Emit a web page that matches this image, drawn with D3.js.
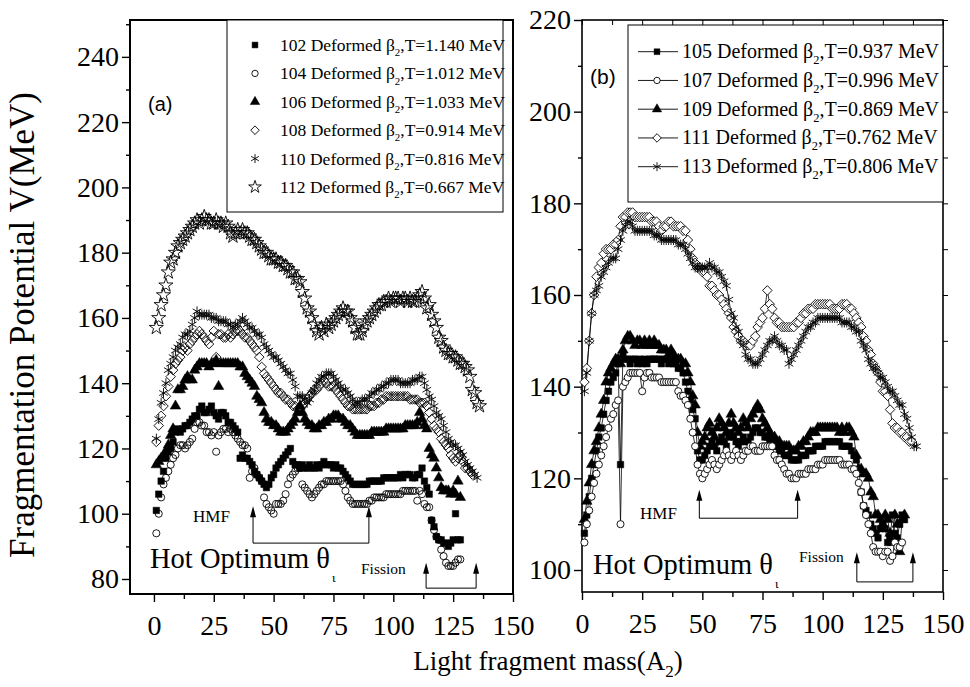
<!DOCTYPE html>
<html><head><meta charset="utf-8">
<script src="https://cdn.jsdelivr.net/npm/d3@7"></script>
<style>body{margin:0;background:#fff} svg{display:block}</style>
</head><body>
<svg id="c" width="970" height="687"></svg>
<script>
// ---------------- DATA ----------------
// Panel (a): fragmentation potential V (MeV) vs light fragment mass A2 = 1,2,3,...
const v102 = [101,106,110,113,117,119,120,122,125,126,125,126,127,127,128,129,130,130,132,133,131,131,132,133,131,130,129,131,131,130,128,128,127,126,125,117,118,117,117,116,115,113,112,111,110,109,108,109,111,112,114,115,116,117,118,119,120,116,115,115,114,115,114,114,115,114,114,115,114,115,116,115,115,115,114,115,114,114,113,112,111,110,109,109,109,109,109,109,109,110,110,110,110,110,110,111,111,111,111,111,111,111,112,111,112,112,112,111,111,112,112,114,110,108,106,98,96,93,92,92,91,91,90,91,92,100,92,92];
const v104 = [94,100,105,109,111,113,115,117,118,120,121,121,120,121,122,123,126,128,128,127,127,125,125,124,125,119,124,125,126,126,125,126,125,124,123,122,121,121,120,111,113,114,112,111,110,105,103,102,101,100,103,103,103,104,106,109,111,112,113,114,114,109,108,107,106,105,106,107,108,109,109,110,110,110,110,110,110,110,109,107,105,104,103,103,103,103,103,103,103,104,104,105,105,105,105,105,106,106,106,106,106,106,106,107,107,107,107,107,107,104,107,106,103,102,102,98,95,93,92,89,87,85,84,84,84,85,86,86];
const v106 = [115,116,117,118,119,121,124,126,133,138,138,139,141,142,141,141,144,145,146,146,146,146,145,146,146,147,139,146,146,146,146,146,146,146,146,145,145,143,142,141,140,139,136,135,134,131,129,128,128,127,127,126,125,125,125,126,127,128,129,131,133,131,129,128,127,127,126,126,127,127,128,128,129,129,130,130,130,129,129,128,127,127,126,125,124,124,124,124,124,124,125,125,125,125,125,125,126,126,126,126,126,126,126,126,127,127,127,127,127,128,131,129,127,126,120,118,117,114,111,108,107,107,107,106,107,106,110,105];
const v108 = [122,127,130,133,136,139,142,144,146,147,148,150,151,150,152,153,154,155,156,155,154,153,152,154,156,148,155,155,154,154,155,154,155,156,156,156,155,154,154,153,152,151,150,148,145,143,142,141,140,139,138,137,137,136,135,135,134,133,133,132,132,133,134,135,136,137,138,138,139,140,141,140,139,139,139,138,137,136,135,134,133,133,132,132,132,132,132,132,132,133,133,133,134,134,135,135,136,136,136,136,136,136,136,136,136,136,135,135,135,135,134,134,134,133,131,129,127,126,125,123,122,121,120,118,117,116,117,118,116,114,114,113,112];
const v110 = [123,129,134,137,140,144,146,148,150,151,152,154,155,155,156,158,160,162,161,161,161,161,161,160,160,160,159,159,159,159,158,158,157,158,158,159,160,159,158,157,157,156,155,155,154,152,151,150,149,148,148,147,146,145,144,143,143,141,139,136,136,136,135,134,135,137,138,140,141,142,142,143,143,143,142,141,140,139,138,138,137,136,135,134,134,134,135,135,135,136,137,137,138,138,139,139,140,140,141,141,141,141,140,140,140,140,140,141,141,141,142,142,140,138,136,135,133,131,130,129,127,125,123,122,121,121,120,119,118,116,115,114,113,112,111];
const v112 = [157,160,164,167,170,174,177,178,180,182,183,184,185,186,187,188,189,190,189,190,191,190,190,189,189,190,189,189,188,189,188,186,185,186,187,186,187,186,186,185,184,184,183,182,181,180,180,179,178,178,178,177,177,176,176,175,174,174,172,172,171,168,166,163,162,160,158,156,155,157,156,158,157,158,159,160,161,162,163,162,162,160,159,157,155,155,156,158,159,160,161,162,163,164,164,165,165,166,165,166,166,166,165,166,166,165,166,165,165,166,167,168,166,163,164,161,159,157,154,153,151,150,149,149,148,148,147,146,146,145,144,142,138,137,134,133];
// Panel (b)
const v105 = [108,112,116,120,123,126,129,131,134,137,139,141,142,143,145,123,147,146,146,145,146,146,145,146,145,146,145,146,146,146,146,146,145,146,146,145,146,145,145,144,144,143,141,139,137,135,133,126,124,124,125,126,127,128,127,126,128,129,128,127,129,130,129,128,127,128,129,128,128,129,130,131,131,130,130,129,129,128,128,127,127,126,126,125,125,125,124,124,124,124,125,125,125,126,126,126,127,127,127,127,128,128,128,128,128,128,128,127,127,127,127,126,125,124,122,117,114,113,112,110,109,108,107,109,110,109,106,107,112,108,107,110,112,111];
const v107 = [106,110,113,116,119,121,123,125,127,129,131,133,134,136,137,110,140,141,142,143,143,143,143,143,139,142,143,143,142,142,142,142,141,141,141,141,141,141,141,139,138,138,137,136,133,130,127,123,121,120,121,122,123,124,123,122,123,124,125,126,125,124,125,126,125,124,125,126,126,127,127,126,126,126,127,127,127,127,127,125,124,124,123,122,121,121,120,120,120,121,121,121,121,122,122,122,122,123,123,123,124,124,124,124,124,124,124,123,123,123,123,122,122,121,119,117,114,112,110,108,105,104,104,104,103,104,104,102,103,106,105,105,106];
const v109 = [111,115,119,123,126,128,131,134,137,141,143,144,145,146,146,145,148,150,151,151,150,149,150,150,149,150,149,150,149,150,149,149,148,148,148,147,148,147,146,146,146,145,145,143,141,138,136,130,127,128,129,131,132,130,129,131,133,132,131,130,132,134,132,131,130,131,133,132,131,133,134,135,136,135,133,132,131,130,129,129,128,128,127,127,127,127,126,126,126,127,127,128,128,129,130,130,130,131,131,131,131,131,131,131,131,131,130,131,130,131,131,130,129,125,122,122,121,121,120,117,116,112,112,111,110,112,111,108,106,112,110,104,111,112];
const v111 = [141,144,150,156,160,164,166,167,169,170,170,170,171,171,172,175,177,177,178,178,178,177,177,177,177,177,177,177,176,176,176,175,174,175,175,176,176,175,175,175,175,174,174,172,170,168,167,166,166,165,165,164,162,162,161,160,160,159,158,157,156,155,153,152,151,150,150,149,149,149,150,151,153,154,155,157,161,158,157,155,154,154,153,153,153,153,153,153,154,154,155,156,156,157,157,157,158,158,158,158,158,158,158,157,157,157,157,158,158,158,157,157,156,155,154,153,151,150,148,147,145,144,143,141,139,139,138,135,132,131,131,130,130,129,129,128,128];
const v113 = [139,143,150,156,160,161,162,164,165,166,167,168,168,168,170,172,174,175,176,176,175,174,174,174,174,174,174,174,174,173,173,173,172,172,172,172,172,172,172,171,171,171,170,169,168,167,166,166,166,166,166,166,167,166,166,165,165,164,163,162,159,156,155,153,152,150,149,147,146,146,145,145,145,146,147,148,149,150,150,151,150,149,149,148,148,145,146,147,148,149,150,151,152,153,153,154,154,155,155,155,155,155,155,155,155,155,155,154,154,154,154,153,153,152,152,150,149,148,146,145,144,144,143,142,142,141,140,139,139,138,137,136,136,134,133,131,129,127,127];

const namesA = ["102","104","106","108","110","112"];
const tempsA = ["1.140","1.012","1.033","0.914","0.816","0.667"];
const namesB = ["105","107","109","111","113"];
const tempsB = ["0.937","0.996","0.869","0.762","0.806"];
const xTicks = [0,25,50,75,100,125,150];
const yTicksA = [80,100,120,140,160,180,200,220,240];
const yTicksB = [100,120,140,160,180,200,220];

// ---------------- DRAWING ----------------
const svg = d3.select('#c');
const serif = "'Liberation Serif','Times New Roman',serif";
const sans = "'Liberation Sans',Arial,sans-serif";

const xA = d3.scaleLinear([-10,150],[130,513]);
const yA = d3.scaleLinear([75.4,251.3],[594,20]);
const xB = d3.scaleLinear([0,150],[582,943]);
const yB = d3.scaleLinear([95.2,220],[592,20]);

const shapes = {
  sq:{type:d3.symbolSquare,size:42,fill:'#000'},
  ci:{type:d3.symbolCircle,size:40,fill:'none'},
  tr:{type:d3.symbolTriangle,size:48,fill:'#000'},
  di:{type:d3.symbolDiamond2,size:58,fill:'none'},
  as:{type:d3.symbolAsterisk,size:70,fill:'none'},
  st:{type:d3.symbolStar,size:62,fill:'none'}
};
const shapeA = ['sq','ci','tr','di','as','st'];
const shapeB = ['sq','ci','tr','di','as'];

function drawMarkers(g, data, x, y, shp, fillOpen){
  const s = shapes[shp];
  g.selectAll(null).data(data).join('path')
    .attr('d', d3.symbol().type(s.type).size(s.size)())
    .attr('transform', (d,i)=>`translate(${x(i+1)},${y(d)})`)
    .attr('fill', s.fill==='none' ? fillOpen : s.fill)
    .attr('stroke','#000').attr('stroke-width', s.fill==='none'?0.9:0.5);
}

function axes(x, y, yt, x0, x1, yTop, yBot, mirror, frameW){
  const g = svg.append('g');
  const la = g.append('g').attr('transform',`translate(${x0},0)`)
    .call(d3.axisLeft(y).tickValues(yt).tickSize(8).tickPadding(3).tickFormat(d3.format('d')));
  const minorY = d3.range(yt[0]-10, yt[yt.length-1]+11, 20).filter(v=>v>y.domain()[0]&&v<y.domain()[1]);
  const lm = g.append('g').attr('transform',`translate(${x0},0)`)
    .call(d3.axisLeft(y).tickValues(minorY).tickSize(4).tickFormat(''));
  const ba = g.append('g').attr('transform',`translate(0,${yBot})`)
    .call(d3.axisBottom(x).tickValues(xTicks).tickSize(8).tickPadding(13));
  const minorX = xTicks.slice(0,-1).map(v=>v+12.5);
  const bm = g.append('g').attr('transform',`translate(0,${yBot})`)
    .call(d3.axisBottom(x).tickValues(minorX).tickSize(5).tickFormat(''));
  [la,lm,ba,bm].forEach(a=>{
    a.select('.domain').remove();
    a.selectAll('line').attr('stroke','#000').attr('stroke-width',1.4);
    a.selectAll('text').attr('font-family',serif).attr('font-size',28).attr('fill','#000');
  });
  if (mirror){
    const ra = g.append('g').attr('transform',`translate(${x1},0)`)
      .call(d3.axisLeft(y).tickValues(d3.range(yt[0],yt[yt.length-1]+1,10)).tickSize(-5).tickFormat(''));
    const ta = g.append('g').attr('transform',`translate(0,${yTop})`)
      .call(d3.axisBottom(x).tickValues(xTicks.concat(minorX)).tickSize(5).tickFormat(''));
    [ra,ta].forEach(a=>{a.select('.domain').remove();a.selectAll('line').attr('stroke','#000').attr('stroke-width',1);});
  }
  g.append('rect').attr('x',x0).attr('y',yTop).attr('width',x1-x0).attr('height',yBot-yTop)
    .attr('fill','none').attr('stroke','#000').attr('stroke-width',frameW);
}

axes(xA, yA, yTicksA, 130, 513, 20, 594, false, 2);
axes(xB, yB, yTicksB, 582, 943, 20, 592, true, 1.6);

const seriesA = [v102,v104,v106,v108,v110,v112];
const ga = svg.append('g');
seriesA.forEach((s,k)=>drawMarkers(ga.append('g'), s, xA, yA, shapeA[k], 'none'));

const seriesB = [v105,v107,v109,v111,v113];
const gb = svg.append('g');
const lineB = d3.line().x((d,i)=>xB(i+1)).y(d=>yB(d));
[3,4,0,2,1].forEach(k=>{
  gb.append('path').datum(seriesB[k]).attr('d',lineB).attr('fill','none').attr('stroke','#000').attr('stroke-width',0.8);
});
[3,4,0,2,1].forEach(k=>drawMarkers(gb.append('g'), seriesB[k], xB, yB, shapeB[k], '#fff'));

function betaText(t, x, y, size, name, temp){
  const tx = t.append('text').attr('x',x).attr('y',y).attr('font-family',serif).attr('font-size',size).attr('fill','#000');
  tx.append('tspan').text(`${name} Deformed β`);
  tx.append('tspan').attr('font-size',size*0.62).attr('dy',size*0.3).text('2');
  tx.append('tspan').attr('dy',-size*0.3).text(`,T=${temp} MeV`);
}
const legA = svg.append('g');
legA.append('rect').attr('x',227).attr('y',20).attr('width',276).attr('height',192).attr('fill','#fff').attr('stroke','#000').attr('stroke-width',1);
namesA.forEach((n,i)=>{
  const cy = 45 + i*28.4;
  const s = shapes[shapeA[i]];
  legA.append('path').attr('d',d3.symbol().type(s.type).size(s.size*0.8)())
    .attr('transform',`translate(255,${cy})`).attr('fill',s.fill).attr('stroke','#000').attr('stroke-width',s.fill==='none'?0.9:0.5);
  betaText(legA, 280, cy+6, 17.5, n, tempsA[i]);
});
const legB = svg.append('g');
legB.append('rect').attr('x',628).attr('y',25).attr('width',315).attr('height',177).attr('fill','#fff').attr('stroke','#000').attr('stroke-width',1);
namesB.forEach((n,i)=>{
  const cy = 51.7 + i*28.75;
  const s = shapes[shapeB[i]];
  legB.append('line').attr('x1',638).attr('x2',678).attr('y1',cy).attr('y2',cy).attr('stroke','#000').attr('stroke-width',0.9);
  legB.append('path').attr('d',d3.symbol().type(s.type).size(s.size*0.8)())
    .attr('transform',`translate(657,${cy})`).attr('fill',s.fill==='none'?'#fff':s.fill).attr('stroke','#000').attr('stroke-width',s.fill==='none'?0.9:0.5);
  betaText(legB, 682, cy+6.5, 20, n, tempsB[i]);
});

svg.append('text').attr('x',148).attr('y',111).attr('font-family',sans).attr('font-size',20).text('(a)');
svg.append('text').attr('x',590).attr('y',84).attr('font-family',sans).attr('font-size',21).text('(b)');

function arrowUp(g, x, y0, y1){
  g.append('line').attr('x1',x).attr('x2',x).attr('y1',y0).attr('y2',y1+8).attr('stroke','#000').attr('stroke-width',1);
  g.append('path').attr('d',`M${x},${y1} L${x-3},${y1+11} L${x+3},${y1+11} Z`).attr('fill','#000');
}
function bracket(x, y, a0, a1, vLine, vTip){
  const g = svg.append('g');
  g.append('line').attr('x1',x(a0)).attr('x2',x(a1)).attr('y1',y(vLine)).attr('y2',y(vLine)).attr('stroke','#000').attr('stroke-width',1);
  arrowUp(g, x(a0), y(vLine), y(vTip));
  arrowUp(g, x(a1), y(vLine), y(vTip));
}
bracket(xA, yA, 41.4, 89.8, 91, 102.3);
bracket(xA, yA, 113.7, 134.6, 77.2, 85);
bracket(xB, yB, 48.75, 89.6, 111.3, 117.5);
bracket(xB, yB, 114.2, 137.5, 97.4, 103.9);

function label(x, y, txt, size){
  svg.append('text').attr('x',x).attr('y',y).attr('font-family',serif).attr('font-size',size).attr('fill','#000').text(txt);
}
label(193, 522, 'HMF', 17);
label(361, 574, 'Fission', 15.5);
label(640, 519, 'HMF', 17);
label(799, 562, 'Fission', 15.5);
function hot(x, y){
  const t = svg.append('text').attr('x',x).attr('y',y).attr('font-family',serif).attr('font-size',28.5).attr('fill','#000');
  t.append('tspan').text('Hot Optimum θ');
  t.append('tspan').attr('font-size',13).attr('dy',14).attr('dx',2).text('ι');
}
hot(150, 568);
hot(593, 574);

svg.append('text').attr('transform','translate(34,325) rotate(-90)').attr('text-anchor','middle')
  .attr('font-family',serif).attr('font-size',35).attr('fill','#000').text('Fragmentation Potential V(MeV)');
const xt = svg.append('text').attr('x',548).attr('y',670).attr('text-anchor','middle')
  .attr('font-family',serif).attr('font-size',27).attr('fill','#000');
xt.append('tspan').text('Light fragment mass(A');
xt.append('tspan').attr('font-size',17).attr('dy',7).text('2');
xt.append('tspan').attr('dy',-7).text(')');
</script>
</body></html>
